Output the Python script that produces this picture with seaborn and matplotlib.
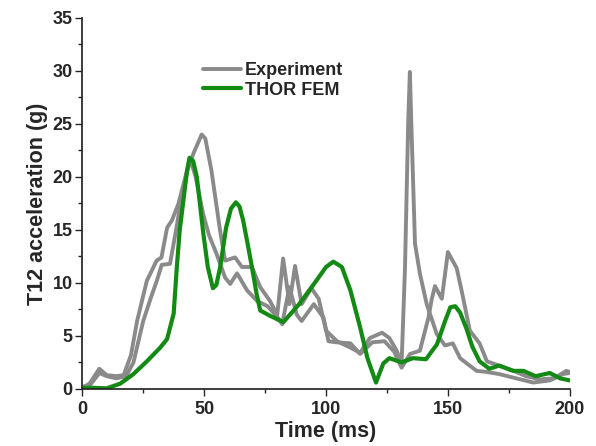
import pandas as pd
import seaborn as sns
import matplotlib.pyplot as plt
from matplotlib.ticker import MultipleLocator

# experiment run 1 (tall spike at ~134 ms)
t_exp1 = [0, 3, 7, 10, 14, 17, 20, 22.5, 26.5, 30.5, 32.5, 34.8, 36.8, 39.5, 43, 45.6, 49, 50.5,
          53, 56.5, 58.6, 62.7, 65.5, 69.6, 73, 77, 80, 82.4, 85, 87.3, 90, 94, 97, 100, 104.5,
          110, 114, 118, 123, 126, 129, 131, 132.4, 133.7, 134.4, 135, 136.5, 138.5, 141.3, 145.4,
          148.8, 152, 155, 157.8, 161.8, 166, 171, 178, 185, 191.8, 197, 200]
g_exp1 = [0.1, 0.5, 1.9, 1.3, 1.2, 1.3, 3.2, 6.4, 10.2, 12.1, 12.4, 15.2, 15.9, 17.5, 20.6, 22.2, 24.0, 23.6,
          20.6, 15.0, 12.1, 12.4, 11.5, 11.5, 9.6, 8.3, 7.0, 12.3, 8.0, 11.6, 8.0, 9.5, 8.5, 5.5, 4.5,
          3.9, 3.4, 4.8, 5.3, 4.8, 3.6, 2.4, 11.4, 25.0, 29.9, 25.0, 13.7, 10.9, 8.0, 5.2,
          4.1, 4.3, 2.9, 2.4, 1.7, 1.6, 1.4, 1.0, 0.6, 0.8, 1.4, 1.5]

# experiment run 2 (second peak ~150 ms)
t_exp2 = [0, 3, 7, 10, 14, 18, 21, 25, 28, 30.6, 32.6, 36, 38.5, 41, 44.3, 46.5, 49.6, 52, 55, 58.6,
          60.7, 63.5, 67.6, 71.7, 76, 80, 82, 85, 88, 90, 95, 99, 101, 104, 110, 114, 119, 124, 128,
          131, 134.5, 138.5, 142, 143.4, 144.7, 147.5, 150, 153.6, 155.6, 159, 163, 166, 171, 177,
          182, 188, 193.6, 198.6, 200]
g_exp2 = [0.2, 0.3, 1.5, 1.2, 1.0, 1.2, 2.5, 6.4, 8.5, 10.2, 11.7, 11.8, 15.0, 18.5, 21.7, 20.0, 16.5, 14.5, 12.8, 10.5,
          9.9, 10.9, 9.3, 8.3, 7.8, 6.8, 6.1, 9.6, 7.0, 6.4, 8.0, 6.7, 4.5, 4.4, 4.3, 3.3, 4.4, 4.5, 3.5,
          2.0, 3.3, 3.6, 6.7, 8.5, 9.7, 8.5, 12.9, 11.4, 9.3, 5.5, 4.3, 2.6, 2.2, 1.7,
          1.2, 0.9, 1.0, 1.7, 1.6]

# THOR FEM model
t_fem = [0, 5, 10, 15.6, 21, 26.5, 32, 34.8, 37.5, 38.8, 40, 41.5, 43, 44, 45.5, 47, 48.5, 49.7, 51.5,
         53.6, 55, 56.6, 59, 61, 63, 64.5, 66, 68, 69.6, 71.5, 73, 77, 82.5, 89, 96, 100, 103, 106.5,
         110, 114, 117, 120.5, 123.5, 126, 131, 135.6, 141, 145.5, 149, 151, 153, 155, 157.6, 160,
         163, 167, 171, 176.8, 181, 186, 191.8, 196, 200]
g_fem = [0.1, 0.1, 0.05, 0.5, 1.4, 2.6, 3.9, 4.7, 7.1, 11.5, 15.0, 17.8, 20.6, 21.8, 21.5, 20.0, 17.0, 14.6, 11.5,
         9.5, 9.8, 11.5, 15.2, 17.0, 17.6, 17.2, 15.9, 13.5, 11.5, 9.0, 7.4, 6.9, 6.3, 8.0, 10.2, 11.5, 12.0, 11.5,
         9.3, 5.8, 2.9, 0.6, 2.4, 2.9, 2.5, 2.9, 2.8, 4.2, 6.5, 7.7, 7.8, 7.2, 5.7, 4.0,
         2.6, 1.9, 2.2, 1.7, 1.7, 1.2, 1.5, 1.0, 0.8]

sns.set_theme(style="ticks")
plt.rcParams['font.family'] = ['Liberation Sans', 'DejaVu Sans']
plt.rcParams['font.weight'] = 'bold'

fig = plt.figure(figsize=(5.96, 4.46), dpi=100)
ax = fig.add_axes([0.138, 0.128, 0.818, 0.832])

gray = "#8a8a8a"
green = "#138a13"
sns.lineplot(x=t_exp1, y=g_exp1, ax=ax, color=gray, lw=2.8, label="Experiment")
sns.lineplot(x=t_exp2, y=g_exp2, ax=ax, color=gray, lw=2.8)
sns.lineplot(x=t_fem, y=g_fem, ax=ax, color=green, lw=3.0, label="THOR FEM")

ax.set_xlim(0, 200)
ax.set_ylim(0, 35)
ax.xaxis.set_major_locator(MultipleLocator(50))
ax.xaxis.set_minor_locator(MultipleLocator(25))
ax.yaxis.set_major_locator(MultipleLocator(5))
ax.yaxis.set_minor_locator(MultipleLocator(2.5))
ax.tick_params(which="major", length=5, width=1, labelsize=13, direction="out", pad=2)
ax.tick_params(axis="x", which="major", pad=4)
ax.tick_params(which="minor", length=3, width=1, direction="out")
for lab in ax.get_xticklabels() + ax.get_yticklabels():
    lab.set_fontweight("bold")
sns.despine(ax=ax)

ax.set_xlabel("Time (ms)", fontsize=15.5, fontweight="bold", labelpad=2)
ax.set_ylabel("T12 acceleration (g)", fontsize=15.5, fontweight="bold", labelpad=3)

leg = ax.legend(loc="upper left", bbox_to_anchor=(0.215, 0.925), frameon=False,
                handlelength=2.1, handletextpad=0.2, labelspacing=0.15,
                prop={"size": 13, "weight": "bold"})

plt.savefig("out.png", dpi=100)
